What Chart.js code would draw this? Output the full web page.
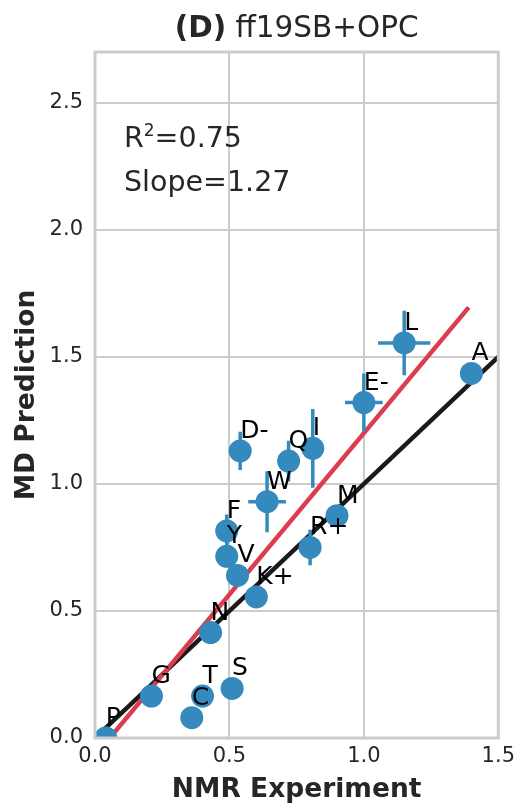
<!DOCTYPE html>
<html>
<head>
  <title>ff19SB+OPC</title>
  <script src="https://cdn.jsdelivr.net/npm/chart.js"></script>
  <style>
    html, body {
      margin: 0;
      padding: 0;
      background: #ffffff;
    }
    .chart-container {
      width: 521px;
      height: 807px;
    }
  </style>
</head>
<body>
  <div class="chart-container">
    <canvas id="chart" width="521" height="807"></canvas>
  </div>

  <script>
    // residues and their NMR / MD values
    const residues = ['P', 'G', 'C', 'T', 'S', 'N', 'K+', 'V', 'Y', 'F', 'W', 'R+', 'M', 'D-', 'Q', 'I', 'E-', 'L', 'A'];
    const nmrValues = [0.04, 0.21, 0.36, 0.40, 0.51, 0.43, 0.60, 0.53, 0.49, 0.49, 0.64, 0.80, 0.90, 0.54, 0.72, 0.81, 1.00, 1.15, 1.40];
    const mdValues = [0.00, 0.165, 0.08, 0.165, 0.195, 0.415, 0.555, 0.64, 0.715, 0.815, 0.93, 0.75, 0.875, 1.13, 1.09, 1.14, 1.32, 1.555, 1.435];
    const nmrErrors = [0, 0, 0, 0, 0, 0, 0, 0, 0, 0, 0.07, 0, 0, 0, 0, 0, 0.07, 0.097, 0];
    const mdErrors = [0, 0, 0, 0, 0, 0, 0, 0, 0, 0.065, 0.12, 0.07, 0, 0.075, 0.08, 0.155, 0.115, 0.127, 0];

    // reference line y = x and the fitted line
    const identityX = [0, 1.5];
    const identityY = [0, 1.5];
    const fitX = [0.04, 1.39];
    const fitY = [-0.019, 1.695];

    const xTicks = [0, 0.5, 1.0, 1.5];
    const yTicks = [0, 0.5, 1.0, 1.5, 2.0, 2.5];

    const rSquared = '0.75';
    const slope = '1.27';

    const FONT = "'DejaVu Sans', sans-serif";
    const TEXT = '#262626';
    const BLUE = '#348ABD';

    const zip = (xs, ys) => xs.map((x, i) => ({ x: x, y: ys[i] }));

    // error bars under the markers
    const errorBars = {
      id: 'errorBars',
      beforeDatasetDraw(chart, args) {
        if (args.index !== 0) return;
        const { ctx, chartArea, scales: { x, y } } = chart;
        ctx.save();
        ctx.beginPath();
        ctx.rect(chartArea.left, chartArea.top, chartArea.width, chartArea.height);
        ctx.clip();
        ctx.strokeStyle = BLUE;
        ctx.lineWidth = 3.5;
        nmrValues.forEach((nx, i) => {
          const px = x.getPixelForValue(nx);
          const py = y.getPixelForValue(mdValues[i]);
          if (mdErrors[i] > 0) {
            ctx.beginPath();
            ctx.moveTo(px, y.getPixelForValue(mdValues[i] - mdErrors[i]));
            ctx.lineTo(px, y.getPixelForValue(mdValues[i] + mdErrors[i]));
            ctx.stroke();
          }
          if (nmrErrors[i] > 0) {
            ctx.beginPath();
            ctx.moveTo(x.getPixelForValue(nx - nmrErrors[i]), py);
            ctx.lineTo(x.getPixelForValue(nx + nmrErrors[i]), py);
            ctx.stroke();
          }
        });
        ctx.restore();
      }
    };

    // frame, residue labels, stats text and title
    const decorations = {
      id: 'decorations',
      afterDatasetsDraw(chart) {
        const { ctx, chartArea, scales: { x, y } } = chart;
        ctx.save();

        ctx.strokeStyle = '#cccccc';
        ctx.lineWidth = 3;
        ctx.strokeRect(chartArea.left, chartArea.top, chartArea.width, chartArea.height);

        ctx.fillStyle = '#000000';
        ctx.font = '25px ' + FONT;
        ctx.textAlign = 'left';
        ctx.textBaseline = 'alphabetic';
        residues.forEach((name, i) => {
          const px = x.getPixelForValue(nmrValues[i]);
          const py = y.getPixelForValue(mdValues[i]);
          ctx.fillText(name, px, py - 13);
        });

        ctx.fillStyle = TEXT;
        const lx = chartArea.left + 29;
        const ly = chartArea.top + 95;
        ctx.font = '28.5px ' + FONT;
        ctx.fillText('R', lx, ly);
        let w = ctx.measureText('R').width;
        ctx.font = '17px ' + FONT;
        ctx.fillText('2', lx + w, ly - 11);
        w += ctx.measureText('2').width;
        ctx.font = '28.5px ' + FONT;
        ctx.fillText('=' + rSquared, lx + w, ly);
        ctx.fillText('Slope=' + slope, lx, ly + 44);

        const boldPart = '(D)';
        const plainPart = ' ff19SB+OPC';
        ctx.font = 'bold 29.5px ' + FONT;
        const bw = ctx.measureText(boldPart).width;
        ctx.font = '29.5px ' + FONT;
        const pw = ctx.measureText(plainPart).width;
        const tx = (chartArea.left + chartArea.right) / 2 - (bw + pw) / 2;
        ctx.font = 'bold 29.5px ' + FONT;
        ctx.fillText(boldPart, tx, 37);
        ctx.font = '29.5px ' + FONT;
        ctx.fillText(plainPart, tx + bw, 37);

        ctx.restore();
      }
    };

    new Chart(document.getElementById('chart').getContext('2d'), {
      type: 'scatter',
      data: {
        datasets: [
          {
            label: 'residues',
            data: zip(nmrValues, mdValues),
            backgroundColor: BLUE,
            borderWidth: 0,
            pointRadius: 11.5,
            pointHoverRadius: 11.5,
            clip: 0
          },
          {
            label: 'fit',
            type: 'line',
            data: zip(fitX, fitY),
            borderColor: '#dc3c50',
            borderWidth: 4.5,
            pointRadius: 0,
            fill: false,
            clip: 0
          },
          {
            label: 'y = x',
            type: 'line',
            data: zip(identityX, identityY),
            borderColor: '#1a1a1a',
            borderWidth: 4.5,
            pointRadius: 0,
            fill: false,
            clip: 0
          }
        ]
      },
      options: {
        responsive: false,
        animation: false,
        events: [],
        layout: {
          padding: { top: 52, right: 18, left: 0, bottom: 0 }
        },
        plugins: {
          legend: { display: false },
          tooltip: { enabled: false },
          title: { display: false }
        },
        scales: {
          x: {
            type: 'linear',
            min: 0,
            max: 1.5,
            afterBuildTicks: (scale) => { scale.ticks = xTicks.map(v => ({ value: v })); },
            afterFit: (scale) => { scale.height = 69; },
            ticks: {
              callback: (v) => Number(v).toFixed(1),
              font: { family: FONT, size: 21 },
              color: TEXT,
              padding: 6,
              maxRotation: 0
            },
            grid: { color: '#cccccc', lineWidth: 2, drawTicks: false },
            border: { display: false },
            title: {
              display: true,
              text: 'NMR Experiment',
              font: { family: FONT, size: 26.5, weight: 'bold' },
              color: TEXT,
              padding: { top: 0, bottom: 1 }
            }
          },
          y: {
            type: 'linear',
            min: 0,
            max: 2.7,
            afterBuildTicks: (scale) => { scale.ticks = yTicks.map(v => ({ value: v })); },
            afterFit: (scale) => { scale.width = 95; },
            ticks: {
              callback: (v) => Number(v).toFixed(1),
              font: { family: FONT, size: 21 },
              color: TEXT,
              padding: 12
            },
            grid: { color: '#cccccc', lineWidth: 2, drawTicks: false },
            border: { display: false },
            title: {
              display: true,
              text: 'MD Prediction',
              font: { family: FONT, size: 26.5, weight: 'bold' },
              color: TEXT,
              padding: { top: 11, bottom: 0 }
            }
          }
        }
      },
      plugins: [errorBars, decorations]
    });
  </script>
</body>
</html>
